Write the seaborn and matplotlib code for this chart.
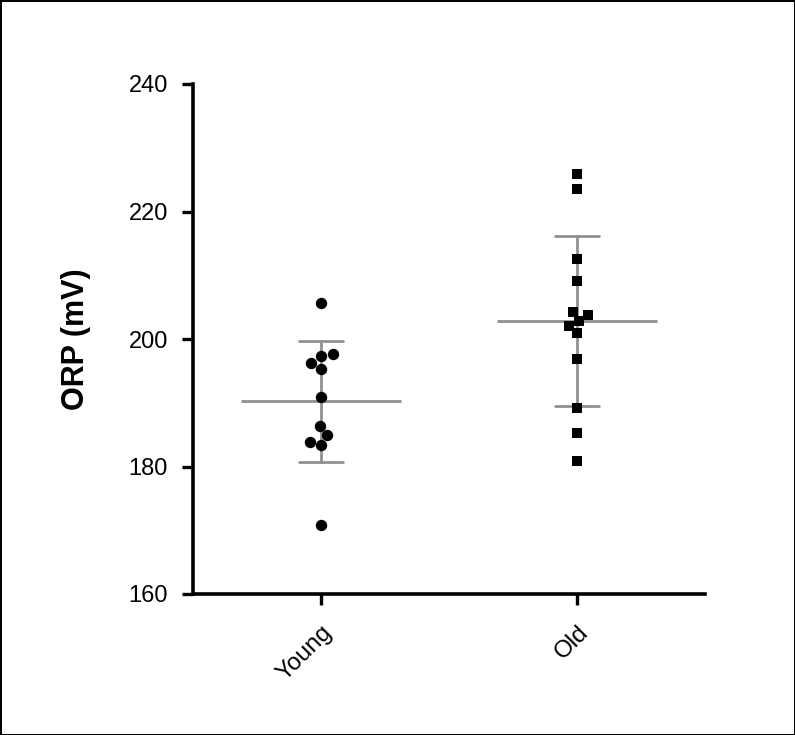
import numpy as np
import pandas as pd
import matplotlib
matplotlib.use("Agg")
import matplotlib.pyplot as plt
import seaborn as sns

# ---- data ----
groups = ["Young", "Old"]
young_orp = [205.6, 197.7, 197.3, 196.2, 195.3, 190.9, 186.3, 184.9, 183.9, 183.4, 170.8]
old_orp = [225.9, 223.6, 212.6, 209.1, 204.2, 203.7, 202.8, 202.1, 201.0, 196.8, 189.1, 185.3, 180.8]
y_ticks = [160, 180, 200, 220, 240]
y_label = "ORP (mV)"

df = pd.DataFrame({
    "group": ["Young"] * len(young_orp) + ["Old"] * len(old_orp),
    "orp": young_orp + old_orp,
})

sns.set_theme(style="ticks")
plt.rcParams["font.family"] = ["Liberation Sans", "DejaVu Sans"]
plt.rcParams["text.color"] = "black"
plt.rcParams["axes.labelcolor"] = "black"
plt.rcParams["xtick.color"] = "black"
plt.rcParams["ytick.color"] = "black"

fig = plt.figure(figsize=(7.95, 7.35), dpi=100)
ax = fig.add_axes([193 / 795, 1 - 594 / 735, (705 - 193) / 795, (594 - 84) / 735])

gray = "#919191"
# mean +/- SD
sns.pointplot(data=df, x="group", y="orp", order=groups, errorbar="sd",
              capsize=0.17, linestyle="none", marker="_", markersize=115,
              markeredgewidth=2, color=gray, err_kws={"linewidth": 2},
              ax=ax, zorder=2)

# individual points
sns.swarmplot(data=df[df.group == "Young"], x="group", y="orp", order=groups,
              marker="o", size=8.2, color="black", linewidth=0, ax=ax, zorder=5)
sns.swarmplot(data=df[df.group == "Old"], x="group", y="orp", order=groups,
              marker="s", size=7.6, color="black", linewidth=0, ax=ax, zorder=5)

ax.set_xlim(-0.5, 1.5)
ax.set_ylim(160, 240)
ax.set_yticks(y_ticks)
ax.set_yticklabels([str(t) for t in y_ticks], fontsize=17, color="black")
ax.set_xticks(range(len(groups)))
ax.set_xticklabels(groups, fontsize=17.5, rotation=45, ha="right",
                   rotation_mode="anchor", color="black")
ax.set_xlabel("")
ax.set_ylabel(y_label, fontsize=22, fontweight="bold", labelpad=27, color="black")

for s in ["top", "right"]:
    ax.spines[s].set_visible(False)
for s in ["left", "bottom"]:
    ax.spines[s].set_linewidth(2.6)
    ax.spines[s].set_color("black")
ax.tick_params(axis="both", direction="out", length=8, width=2.4, color="black",
               labelcolor="black")
ax.tick_params(axis="y", pad=10)
ax.tick_params(axis="x", pad=12)

fig.patch.set_edgecolor("black")
fig.patch.set_linewidth(2)
fig.savefig("out.png", dpi=100, facecolor="white", edgecolor=fig.get_edgecolor())
